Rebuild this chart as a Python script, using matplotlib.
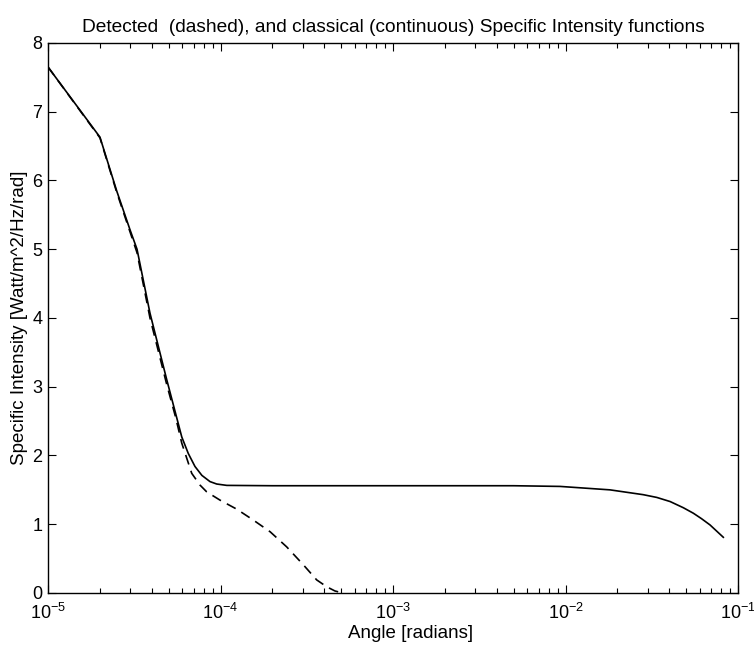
import matplotlib
matplotlib.use("Agg")
import matplotlib.pyplot as plt

plt.rcParams['font.family'] = ['Liberation Sans', 'DejaVu Sans']
plt.rcParams['mathtext.fontset'] = 'custom'
plt.rcParams['mathtext.rm'] = 'Liberation Sans'
plt.rcParams['axes.unicode_minus'] = False

# classical specific intensity (continuous)
angle_cl = [1e-5, 2e-5, 2.5e-5, 2.99e-5, 3.28e-5, 3.9e-5, 4.88e-5, 5.96e-5, 6.5e-5,
            7.11e-5, 7.8e-5, 8.69e-5, 9.5e-5, 1.087e-4, 2e-4, 1e-3, 5e-3, 9.3e-3,
            1.81e-2, 2.82e-2, 3.38e-2, 4.04e-2, 4.82e-2, 5.51e-2, 6.15e-2, 6.88e-2,
            7.52e-2, 8.22e-2]
inten_cl = [7.65, 6.63, 5.85, 5.28, 5.0, 4.07, 3.10, 2.27, 2.03,
            1.84, 1.71, 1.62, 1.585, 1.565, 1.56, 1.56, 1.56, 1.55,
            1.50, 1.43, 1.39, 1.33, 1.24, 1.16, 1.08, 0.99,
            0.90, 0.81]

# detected specific intensity (dashed)
angle_det = [1e-5, 2e-5, 2.5e-5, 2.99e-5, 3.28e-5, 3.9e-5, 4.88e-5, 5.5e-5, 5.96e-5,
             6.81e-5, 7.6e-5, 8.32e-5, 9.94e-5, 1.24e-4, 1.55e-4, 1.94e-4, 2.42e-4,
             3.02e-4, 3.61e-4, 4.13e-4, 4.6e-4, 5.1e-4]
inten_det = [7.65, 6.62, 5.83, 5.25, 4.95, 4.0, 3.03, 2.55, 2.18,
             1.74, 1.57, 1.47, 1.35, 1.22, 1.06, 0.89, 0.67,
             0.41, 0.19, 0.09, 0.03, 0.0]

fig = plt.figure(figsize=(7.54, 6.48), dpi=100)
ax = fig.add_axes([0.0637, 0.0849, 0.9151, 0.8488])

ax.plot(angle_det, inten_det, color='black', lw=1.2, dashes=(6, 4))
ax.plot(angle_cl, inten_cl, color='black', lw=1.2)

ax.set_xscale('log')
ax.set_xlim(1e-5, 1e-1)
ax.set_ylim(0, 8)
ax.set_yticks(range(0, 9))

ax.tick_params(which='both', direction='in', top=True, right=True, labelsize=13, width=0.8)
ax.tick_params(which='major', length=6)
ax.tick_params(which='minor', length=3.5)
ax.tick_params(axis='x', pad=7)
ax.tick_params(axis='y', pad=4)
for s in ax.spines.values():
    s.set_linewidth(1.0)

ax.set_title('Detected  (dashed), and classical (continuous) Specific Intensity functions',
             fontsize=13.8, pad=8)
ax.set_xlabel('Angle [radians]', fontsize=13.5)
ax.set_ylabel('Specific Intensity [Watt/m^2/Hz/rad]', fontsize=13.5)
ax.xaxis.set_label_coords(0.525, -0.058)
ax.yaxis.set_label_coords(-0.029, 0.5)

fig.savefig('out.png', dpi=100)
